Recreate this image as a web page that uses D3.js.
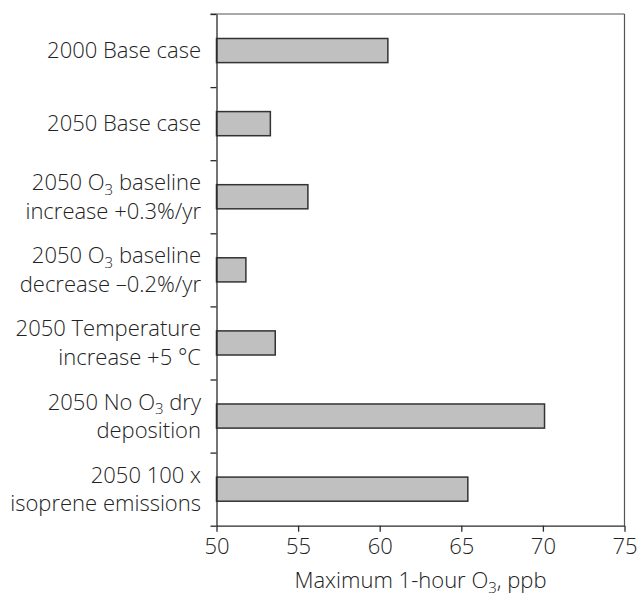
<!DOCTYPE html>
<html>
<head>
<meta charset="utf-8">
<script src="https://cdn.jsdelivr.net/npm/d3@7"></script>
<style>
  html, body { margin: 0; padding: 0; background: #fff; }
  svg text { font-family: "Open Sans", "Noto Sans", sans-serif; font-weight: 300; fill: #222; }
</style>
</head>
<body>
<svg id="chart" width="639" height="595"></svg>
<script>
// Scenario labels: each line is a list of [text, isSubscript] pieces
const scenarios = [
  [[["2000 Base case", false]]],
  [[["2050 Base case", false]]],
  [[["2050 O", false], ["3", true], [" baseline", false]], [["increase +0.3%/yr", false]]],
  [[["2050 O", false], ["3", true], [" baseline", false]], [["decrease \u20130.2%/yr", false]]],
  [[["2050 Temperature", false]], [["increase +5 \u00B0C", false]]],
  [[["2050 No O", false], ["3", true], [" dry", false]], [["deposition", false]]],
  [[["2050 100 x", false]], [["isoprene emissions", false]]]
];
// Maximum 1-hour ozone, ppb
const maxOzone = [60.5, 53.3, 55.6, 51.8, 53.6, 70.1, 65.4];
const xTicks = [50, 55, 60, 65, 70, 75];
const xDomain = [50, 75];

(function draw() {
  const svg = d3.select("#chart");
  const mLeft = 216.5, mRight = 624.5, mTop = 14, mBottom = 525.7;
  const fontSize = 22, subSize = 15, subShift = 4.5, lineH = 28.5, capH = 15.5;
  const ink = "#2a2a2a";

  const x = d3.scaleLinear().domain(xDomain).range([mLeft, mRight]);
  const idx = d3.range(scenarios.length);
  const y = d3.scaleBand().domain(idx).range([mTop, mBottom]).paddingInner(0.67).paddingOuter(0.335);
  const yEdge = d3.scaleLinear().domain([0, scenarios.length]).range([mTop, mBottom]);

  // frame top and right
  svg.append("line").attr("x1", mLeft - 6).attr("x2", mRight).attr("y1", mTop).attr("y2", mTop)
    .attr("stroke", "#555").attr("stroke-width", 1.2);
  svg.append("line").attr("x1", mRight).attr("x2", mRight).attr("y1", mTop).attr("y2", mBottom)
    .attr("stroke", "#555").attr("stroke-width", 1.2);

  // bars
  svg.append("g").selectAll("rect").data(maxOzone).join("rect")
    .attr("x", x(xDomain[0]))
    .attr("y", (d, i) => y(i))
    .attr("width", d => x(d) - x(xDomain[0]))
    .attr("height", y.bandwidth())
    .attr("fill", "#c0c0c0")
    .attr("stroke", "#333")
    .attr("stroke-width", 1.5);

  // x axis
  const xAxis = svg.append("g").attr("transform", `translate(0,${mBottom})`)
    .call(d3.axisBottom(x).tickValues(xTicks).tickSize(6).tickSizeOuter(0).tickPadding(7));
  xAxis.select(".domain").attr("stroke", ink).attr("stroke-width", 1.3);
  xAxis.selectAll(".tick line").attr("stroke", ink).attr("stroke-width", 1.3);
  xAxis.selectAll(".tick text").attr("font-size", fontSize).attr("fill", "#222")
    .attr("font-family", "Open Sans, Noto Sans, sans-serif").attr("font-weight", 300);

  // y axis: ticks at band boundaries
  const yAxis = svg.append("g").attr("transform", `translate(${mLeft},0)`)
    .call(d3.axisLeft(yEdge).tickValues(d3.range(scenarios.length + 1)).tickSize(6).tickSizeOuter(0).tickFormat(""));
  yAxis.select(".domain").attr("stroke", ink).attr("stroke-width", 1.3);
  yAxis.selectAll(".tick line").attr("stroke", ink).attr("stroke-width", 1.3);

  // text with subscript pieces
  function writePieces(textSel, pieces) {
    let prevSub = false;
    pieces.forEach(([t, sub]) => {
      const ts = textSel.append("tspan").text(t);
      if (sub) ts.attr("font-size", subSize).attr("dy", subShift);
      else if (prevSub) ts.attr("dy", -subShift);
      prevSub = sub;
    });
  }

  const labels = svg.append("g");
  scenarios.forEach((lines, i) => {
    const c = y(i) + y.bandwidth() / 2;
    const n = lines.length;
    lines.forEach((pieces, j) => {
      const base = c + capH / 2 + (j - (n - 1) / 2) * lineH;
      const t = labels.append("text")
        .attr("x", 201).attr("y", base)
        .attr("text-anchor", "end")
        .attr("font-size", fontSize);
      writePieces(t, pieces);
    });
  });

  // x axis title
  const title = svg.append("text").attr("x", (mLeft + mRight) / 2).attr("y", 588)
    .attr("text-anchor", "middle").attr("font-size", fontSize);
  writePieces(title, [["Maximum 1-hour O", false], ["3", true], [", ppb", false]]);
})();
</script>
</body>
</html>
